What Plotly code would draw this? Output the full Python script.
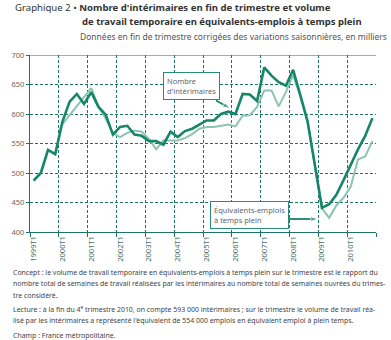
import plotly.graph_objects as go

years = list(range(1999, 2011))
quarter_labels = [f"{y}T{q}" for y in years for q in range(1, 5)]
year_tick_labels = [f"{y}T1" for y in years]

interimaires = [487, 500, 539, 532, 587, 621, 634, 617, 637, 612, 599, 565,
                578, 580, 565, 563, 554, 554, 548, 570, 561, 571, 575, 582,
                589, 589, 600, 604, 600, 634, 633, 622, 679, 665, 654, 648,
                675, 632, 588, 515, 441, 447, 463, 488, 514, 540, 563, 593]

etp = [None, None, None, None, 583, None, None, None, 644, 612, 592, 568,
       561, 568, 572, 570, 558, 540, 555, 555, 555, 559, 566, 575,
       578, 578, 580, 582, 579, 597, 598, 612, 640, 640, 613, 637,
       666, 630, 587, 514, 440, 424, 445, 458, 477, 523, 528, 554]

y_ticks = [400, 450, 500, 550, 600, 650, 700]

DARK = "rgb(22,134,104)"
LIGHT = "rgb(140,196,176)"
GRID = "rgb(30,115,100)"
FONT = "Noto Sans"

xpos = [i + 0.5 for i in range(len(quarter_labels))]

fig = go.Figure()
fig.add_trace(go.Scatter(x=xpos, y=etp, mode="lines", connectgaps=True,
                         line=dict(color=LIGHT, width=2), name="Équivalents-emplois à temps plein",
                         hovertext=quarter_labels))
fig.add_trace(go.Scatter(x=xpos, y=interimaires, mode="lines",
                         line=dict(color=DARK, width=2.6), name="Nombre d'intérimaires",
                         hovertext=quarter_labels))

# callout arrows (drawn as small line + arrow-head markers)
fig.add_trace(go.Scatter(x=[25.8, 27.8], y=[623, 609.5], mode="lines+markers",
                         line=dict(color=DARK, width=1.8),
                         marker=dict(symbol="arrow", size=[0, 8], angleref="previous", color=DARK),
                         hoverinfo="skip"))
fig.add_trace(go.Scatter(x=[35.8, 40.0], y=[422, 422], mode="lines+markers",
                         line=dict(color=DARK, width=1.8),
                         marker=dict(symbol="arrow", size=[0, 8], angleref="previous", color=DARK),
                         hoverinfo="skip"))

L, R, T, B = 21, 15, 55, 108
W, H = 391, 340
pw = W - L - R
ph = H - T - B


def px_x(px):
    return (px - L) / pw


def px_y(py):
    return (H - B - py) / ph


fig.update_layout(
    width=W, height=H,
    margin=dict(l=L, r=R, t=T, b=B, pad=0),
    paper_bgcolor="white", plot_bgcolor="white",
    showlegend=False,
    font=dict(family=FONT, color="#555555", size=8),
)

fig.update_xaxes(
    range=[0, 48],
    tickvals=[i * 4 + 0.5 for i in range(len(years))],
    ticktext=year_tick_labels,
    tickangle=-90,
    ticks="", showgrid=False,
    tickfont=dict(size=7.5, color="rgb(70,110,100)", family=FONT),
    showline=True, linecolor=GRID, linewidth=1.2,
    zeroline=False,
    minor=dict(tickvals=[i * 4 for i in range(13)], ticks="outside", ticklen=4,
               tickcolor=GRID, showgrid=True, gridcolor=GRID, griddash="3px,2px",
               gridwidth=1),
)
fig.update_yaxes(
    range=[400, 700],
    tickvals=y_ticks,
    ticks="outside", ticklen=3, tickcolor=GRID,
    tickfont=dict(size=7.5, color="#666666", family=FONT),
    showgrid=True, gridcolor=GRID, griddash="3px,2px", gridwidth=1,
    showline=True, linecolor=GRID, linewidth=1.2,
    zeroline=False,
)

# top border of plot
fig.add_shape(type="line", xref="x", yref="y", x0=0, x1=48, y0=700, y1=700,
              line=dict(color=GRID, width=1.2), layer="above")

# callout boxes
fig.add_annotation(x=22.4, y=648, xref="x", yref="y",
                   text="Nombre<br>d'intérimaires", showarrow=False, align="left",
                   font=dict(size=7.5, color="#666666", family=FONT),
                   bordercolor="rgb(40,140,120)", borderwidth=1, borderpad=3,
                   bgcolor="white")
fig.add_annotation(x=30.5, y=429, xref="x", yref="y",
                   text="Équivalents-emplois<br>à temps plein", showarrow=False, align="left",
                   font=dict(size=7.5, color="#666666", family=FONT),
                   bordercolor="rgb(40,140,120)", borderwidth=1, borderpad=3,
                   bgcolor="white")

# titles
fig.add_annotation(xref="paper", yref="paper", x=px_x(4), y=px_y(8), xanchor="left", yanchor="middle",
                   text="Graphique 2 • <b>Nombre d'intérimaires en fin de trimestre et volume</b>",
                   showarrow=False, font=dict(size=9.6, color="#333333", family=FONT))
fig.add_annotation(xref="paper", yref="paper", x=px_x(72), y=px_y(21), xanchor="left", yanchor="middle",
                   text="<b>de travail temporaire en équivalents-emplois à temps plein</b>",
                   showarrow=False, font=dict(size=9.5, color="#333333", family=FONT))
fig.add_annotation(xref="paper", yref="paper", x=px_x(389), y=px_y(36), xanchor="right", yanchor="middle",
                   text="Données en fin de trimestre corrigées des variations saisonnières, en milliers",
                   showarrow=False, font=dict(size=8.5, color="#555555", family=FONT))

notes = [
    ("Concept : le volume de travail temporaire en équivalents-emplois à temps plein sur le trimestre est le rapport du", 272),
    ("nombre total de semaines de travail réalisées par les intérimaires au nombre total de semaines ouvrées du trimes-", 283.5),
    ("tre considéré.", 295),
    ("Lecture : à la fin du 4<sup>e</sup> trimestre 2010, on compte 593 000 intérimaires ; sur le trimestre le volume de travail réa-", 309),
    ("lisé par les intérimaires a représenté l'équivalent de 554 000 emplois en équivalent emploi à plein temps.", 320.5),
    ("Champ : France métropolitaine.", 335),
]
for txt, yy in notes:
    fig.add_annotation(xref="paper", yref="paper", x=px_x(2), y=px_y(yy), xanchor="left", yanchor="middle",
                       text=txt, showarrow=False,
                       font=dict(size=6.95, color="#444444", family=FONT))

fig.write_html("out.html")
